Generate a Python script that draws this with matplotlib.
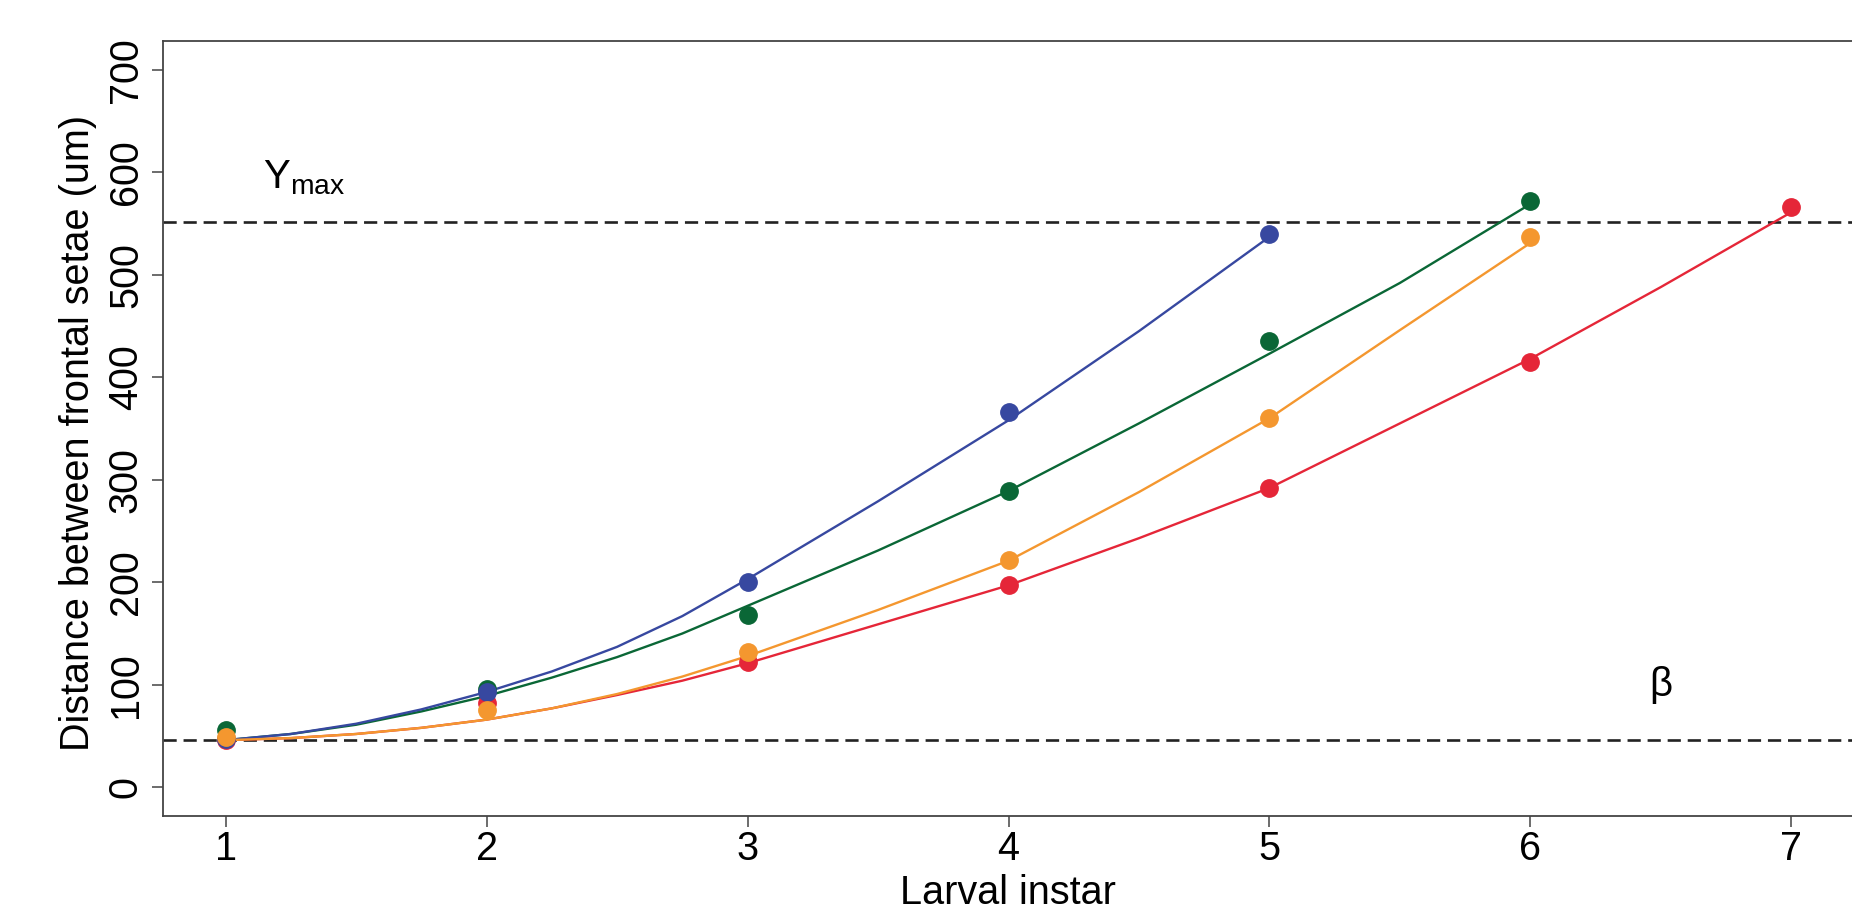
import numpy as np
import matplotlib.pyplot as plt

plt.rcParams['font.family'] = ['Liberation Sans', 'DejaVu Sans']
plt.rcParams['mathtext.fontset'] = 'custom'
plt.rcParams['mathtext.rm'] = 'Liberation Sans'

# === Data ===
instar = [1, 2, 3, 4, 5, 6, 7]

blue_pts = [47, 93, 200, 366, 540]
green_pts = [56, 96, 168, 289, 435, 572]
orange_pts = [49, 75, 132, 222, 360, 537]
red_pts = [46, 82, 122, 197, 292, 415, 566]

# fitted curves, read every quarter instar up to 3, then every half
fit_x = [1.0, 1.25, 1.5, 1.75, 2.0, 2.25, 2.5, 2.75, 3.0,
         3.5, 4.0, 4.5, 5.0, 5.5, 6.0, 6.5, 7.0]
blue_fit = [46, 52, 62, 76, 93, 113, 137, 167, 203, 279, 358, 445, 537]
green_fit = [46, 52, 61, 74, 89, 107, 127, 150, 177, 231, 289, 355, 423, 492, 569]
orange_fit = [46, 48, 52, 58, 66, 77, 91, 108, 128, 173, 221, 288, 360, 446, 531]
red_fit = [46, 48, 52, 58, 66, 77, 90, 104, 121, 159, 197, 243, 292, 355, 418, 488, 561]

y_max = 551
beta = 46

colors = {
    'blue': '#3748a0',
    'green': '#0a6736',
    'orange': '#f4972f',
    'red': '#e52638',
}

series = [
    ('green', green_pts, green_fit),
    ('red', red_pts, red_fit),
    ('blue', blue_pts, blue_fit),
    ('orange', orange_pts, orange_fit),
]

# === Plot ===
fig = plt.figure(figsize=(18.52, 9.14), dpi=100)
ax = fig.add_axes([163 / 1852, 98 / 914, 1691 / 1852, 775 / 914])

for name, pts, fit in series:
    c = colors[name]
    ax.plot(fit_x[:len(fit)], fit, '-', color=c, lw=1.7, zorder=3,
            solid_joinstyle='round')
    ax.plot(instar[:len(pts)], pts, 'o', color=c, ms=12.5, mec=c, zorder=4)

dash = (0, (5, 2.6))
ax.axhline(y_max, color='#222222', lw=1.9, linestyle=dash, zorder=2)
ax.axhline(beta, color='#222222', lw=1.9, linestyle=dash, zorder=2)

ax.text(1.30, 595, r'$\mathregular{Y_{max}}$', fontsize=29, ha='center', va='center')
ax.text(6.5, 100, '\u03b2', fontsize=29, ha='center', va='center')

ax.set_xlim(0.76, 7.24)
ax.set_ylim(-28, 728)
ax.set_xticks(instar)
ax.set_yticks(range(0, 701, 100))

for s in ax.spines.values():
    s.set_color('#444444')
    s.set_linewidth(1.3)

ax.tick_params(axis='both', direction='out', length=8, width=1.1,
               color='#444444', labelsize=28.5)
ax.tick_params(axis='x', pad=2)
ax.tick_params(axis='y', pad=5)
for lab in ax.get_yticklabels():
    lab.set_rotation(90)
    lab.set_va('center')

fig.text(1008 / 1852, 1 - 893 / 914, 'Larval instar', fontsize=28.5,
         ha='center', va='center')
fig.text(78 / 1852, 1 - 433 / 914, 'Distance between frontal setae (um)',
         fontsize=28.5, rotation=90, ha='center', va='center')

fig.savefig('out.png', dpi=100)
